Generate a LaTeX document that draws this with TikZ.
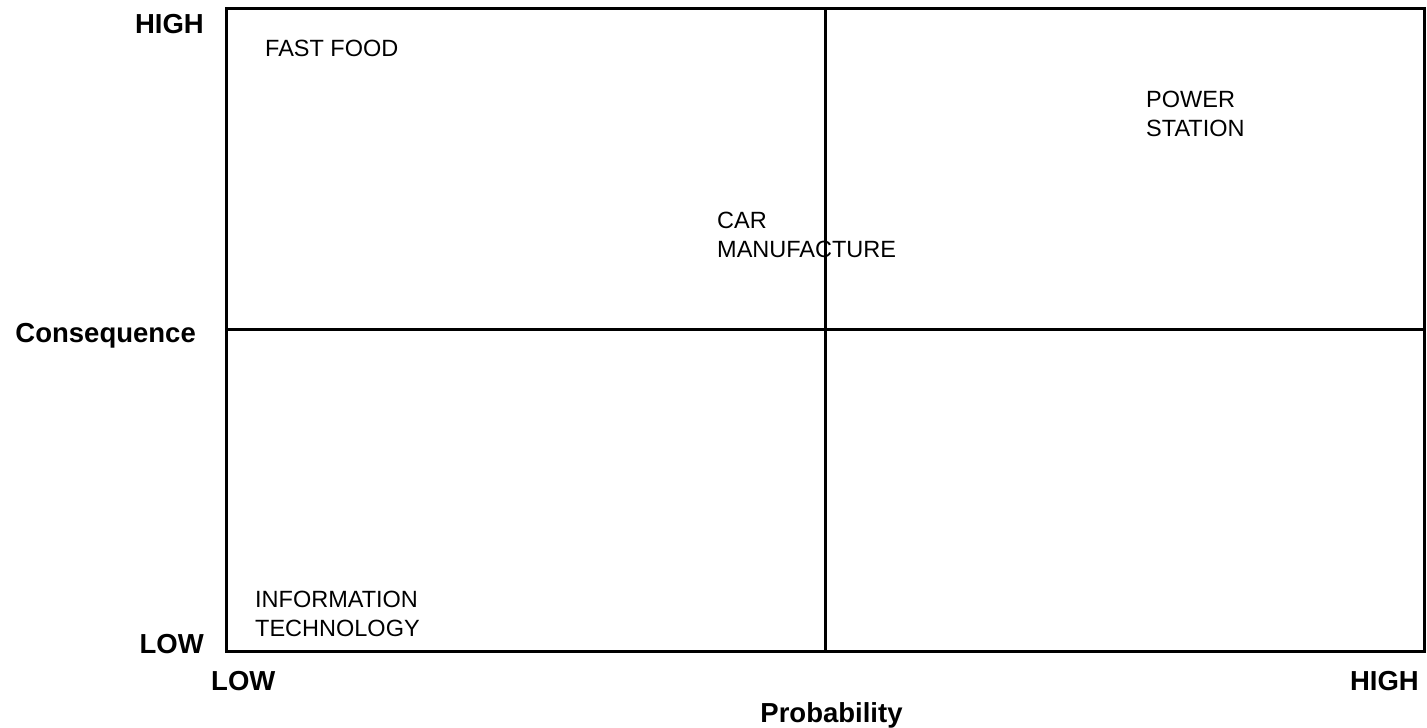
\documentclass[tikz,border=0pt]{standalone}
\usepackage{fontspec}
\setmainfont{Liberation Sans}
\begin{document}
\begin{tikzpicture}[x=1pt,y=-1pt,
  axislabel/.style={font=\fontsize{27.5}{32}\selectfont\bfseries, inner sep=0pt},
  itemlabel/.style={font=\fontsize{23.5}{28.5}\selectfont, inner sep=0pt, align=left, anchor=base west},
  gridline/.style={line width=3pt, line join=miter, line cap=rect}]
\useasboundingbox (0,0) rectangle (1427,728);
\coordinate (tl) at (226,8);
\coordinate (br) at (1424,651);
\coordinate (vt) at (825,8);
\coordinate (vb) at (825,651);
\coordinate (hl) at (226,329);
\coordinate (hr) at (1424,329);
\draw[gridline] (tl) rectangle (br);
\draw[gridline] (vt) -- (vb);
\draw[gridline] (hl) -- (hr);
\node[axislabel, anchor=base east] (yhigh) at (204,34) {HIGH};
\node[axislabel, anchor=base east] (ylabel) at (196,342) {Consequence};
\node[axislabel, anchor=base east] (ylow) at (204,653) {LOW};
\node[axislabel, anchor=base west] (xlow) at (211,690) {LOW};
\node[axislabel, anchor=base east] (xhigh) at (1419,690) {HIGH};
\node[axislabel, anchor=base] (xlabel) at (831.5,722) {Probability};
\node[itemlabel] (fastfood) at (265,56) {FAST FOOD};
\node[itemlabel] (power) at (1146,136) {POWER\\STATION};
\node[itemlabel] (car) at (717,257) {CAR\\MANUFACTURE};
\node[itemlabel] (it) at (255,636) {INFORMATION\\TECHNOLOGY};
\end{tikzpicture}
\end{document}
